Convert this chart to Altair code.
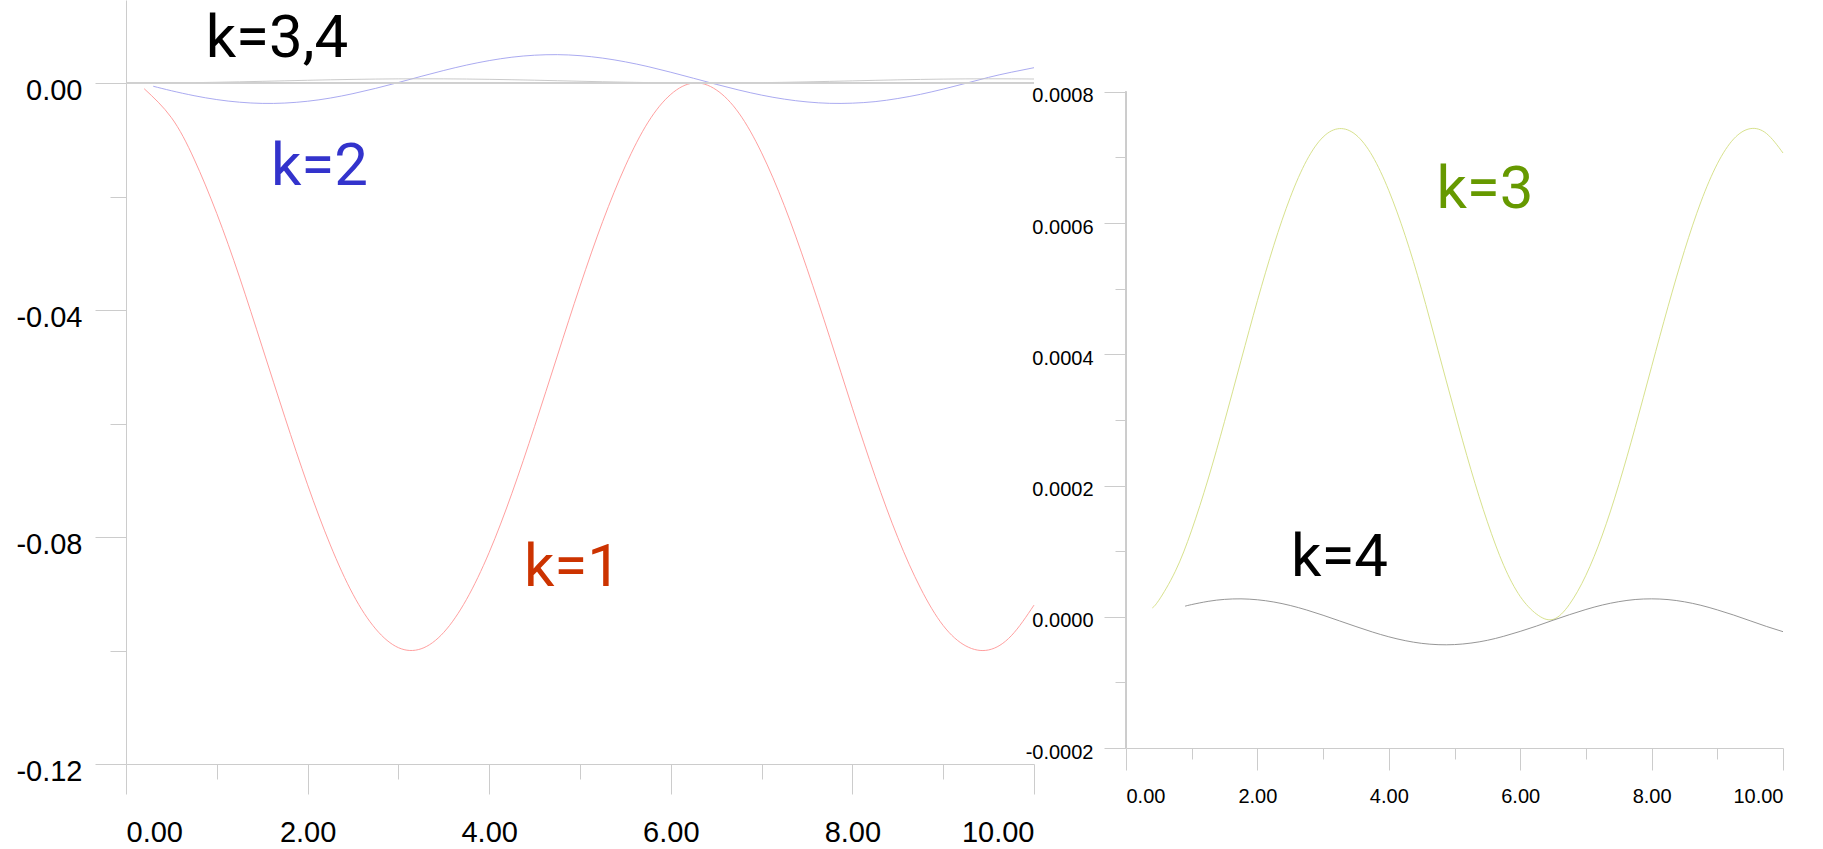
import altair as alt
import pandas as pd

# ---------------- data ----------------
X_GRID = [0.5, 0.75, 1.0, 1.25, 1.5, 1.75, 2.0, 2.25, 2.5, 2.75, 3.0,
          3.25, 3.5, 3.75, 4.0, 4.25, 4.5, 4.75, 5.0, 5.25, 5.5, 5.75, 6.0,
          6.25, 6.5, 6.75, 7.0, 7.25, 7.5, 7.75, 8.0, 8.25, 8.5, 8.75, 9.0,
          9.25, 9.5, 9.75, 10.0]

x_k1 = [0.2] + X_GRID
y_k1 = [-0.0010, -0.0061, -0.0134, -0.0230, -0.0342, -0.0465, -0.0589, -0.0708,
        -0.0814, -0.0901, -0.0962, -0.0995, -0.0997, -0.0968, -0.0910, -0.0827,
        -0.0723, -0.0605, -0.0481, -0.0358, -0.0244, -0.0146, -0.0069, -0.0020,
        -0.0000, -0.0012, -0.0053, -0.0123, -0.0216, -0.0327, -0.0448, -0.0573,
        -0.0693, -0.0801, -0.0890, -0.0956, -0.0992, -0.0999, -0.0974, -0.0920]

x_k2 = [0.3] + X_GRID
y_k2 = [-0.00057, -0.00136, -0.00223, -0.00292, -0.00338, -0.00359, -0.00353,
        -0.00321, -0.00265, -0.00187, -0.00094, 0.00009, 0.00117, 0.00221,
        0.00316, 0.00395, 0.00455, 0.00490, 0.00500, 0.00482, 0.00439, 0.00373,
        0.00289, 0.00190, 0.00084, -0.00023, -0.00124, -0.00213, -0.00284,
        -0.00333, -0.00358, -0.00355, -0.00328, -0.00273, -0.00199, -0.00107,
        -0.00005, 0.00100, 0.00190, 0.00270]

x_k3 = [0.4] + X_GRID
y_k3 = [0.0000135, 0.0000252, 0.0000692, 0.0001321, 0.0002099, 0.0002978,
        0.0003903, 0.0004817, 0.0005662, 0.0006391, 0.0006955, 0.0007312,
        0.0007440, 0.0007344, 0.0007024, 0.0006496, 0.0005808, 0.0004985,
        0.0004060, 0.0003134, 0.0002243, 0.0001448, 0.0000781, 0.0000310,
        0.0000040, -0.0000040, 0.0000190, 0.0000632, 0.0001246, 0.0002012,
        0.0002885, 0.0003811, 0.0004727, 0.0005580, 0.0006322, 0.0006903,
        0.0007283, 0.0007439, 0.0007364, 0.0007068]

x_k4 = [0.9] + X_GRID[2:]
y_k4 = [0.0000162, 0.0000186, 0.0000235, 0.0000265, 0.0000273, 0.0000259,
        0.0000225, 0.0000172, 0.0000103, 0.0000023, -0.0000063, -0.0000149,
        -0.0000232, -0.0000305, -0.0000364, -0.0000405, -0.0000425, -0.0000424,
        -0.0000401, -0.0000359, -0.0000297, -0.0000223, -0.0000141, -0.0000053,
        0.0000032, 0.0000111, 0.0000179, 0.0000230, 0.0000263, 0.0000273,
        0.0000262, 0.0000228, 0.0000175, 0.0000105, 0.0000026, -0.0000061,
        -0.0000148, -0.0000227]

x_major = [0, 2, 4, 6, 8, 10]
x_minor = [1, 3, 5, 7, 9]
left_y_major = [0.0, -0.04, -0.08, -0.12]
left_y_minor = [-0.02, -0.06, -0.10]
right_y_major = [-0.0002, 0.0, 0.0002, 0.0004, 0.0006, 0.0008]
right_y_minor = [-0.0001, 0.0001, 0.0003, 0.0005, 0.0007]

left_labels = ["k=3,4", "k=2", "k=1"]
left_label_x = [1.663, 2.131, 4.917]
left_label_y = [0.00458, -0.01797, -0.0886]
left_label_color = ["#000000", "#3333cc", "#cc3300"]

right_labels = ["k=3", "k=4"]
right_label_x = [5.464, 3.250]
right_label_y = [0.000623, 0.0000614]
right_label_color = ["#669900", "#000000"]

# ---------------- tables ----------------
def series(name, xs, ys):
    return pd.DataFrame({"x": xs, "y": ys, "series": name})

df_left = pd.concat([series("k1", x_k1, y_k1), series("k2", x_k2, y_k2),
                     series("k3", x_k3, y_k3), series("k4", x_k4, y_k4)])
df_right = pd.concat([series("k3", x_k3, y_k3), series("k4", x_k4, y_k4)])
ann_left = pd.DataFrame({"x": left_label_x, "y": left_label_y,
                         "label": left_labels, "color": left_label_color})
ann_right = pd.DataFrame({"x": right_label_x, "y": right_label_y,
                          "label": right_labels, "color": right_label_color})

AX = "#cccccc"
LABEL_FONT = "Liberation Sans"
ANN_FONT = "Roboto"
ANN_SIZE = 60
common = dict(grid=False, domainColor=AX, tickColor=AX, domainWidth=1,
              tickWidth=1, labelColor="#000000", labelFont=LABEL_FONT, title=None)

# ---------------- left panel ----------------
xs_l = alt.Scale(domain=[0, 10], nice=False, zero=False)
ys_l = alt.Scale(domain=[-0.12, 0.01463], nice=False, zero=False)

lines_l = alt.Chart(df_left).mark_line(strokeWidth=0.9, interpolate="natural").encode(
    x=alt.X("x:Q", scale=xs_l, axis=alt.Axis(values=x_major, format=".2f", orient="bottom",
            tickSize=30, labelPadding=24, labelFontSize=29, **common)),
    y=alt.Y("y:Q", scale=ys_l, axis=alt.Axis(values=left_y_major, format=".2f", orient="left",
            tickSize=31, labelPadding=13, labelOffset=7, labelFontSize=29, **common)),
    color=alt.Color("series:N", legend=None,
                    scale=alt.Scale(domain=["k1", "k2", "k3", "k4"],
                                    range=["#ff9494", "#a0a0ee", "#c4c4c4", "#d0d0d0"])),
    detail="series:N",
)
zero_l = alt.Chart(df_left).mark_rule(color="#d0d0d0", strokeWidth=1).encode(
    x=alt.X(datum=0, scale=xs_l, axis=None),
    x2=alt.X2(datum=10),
    y=alt.Y(datum=0, scale=ys_l, axis=None),
)
minor_l = alt.Chart(df_left).mark_point(opacity=0).encode(
    x=alt.X("x:Q", scale=xs_l, axis=alt.Axis(values=x_minor, orient="bottom", tickSize=15,
            labels=False, domain=False, **common)),
    y=alt.Y("y:Q", scale=ys_l, axis=alt.Axis(values=left_y_minor, orient="left", tickSize=16,
            labels=False, domain=False, **common)),
)
text_l = alt.Chart(ann_left).mark_text(align="center", baseline="alphabetic", font=ANN_FONT,
                                        fontSize=ANN_SIZE).encode(
    x=alt.X("x:Q", scale=xs_l, axis=None),
    y=alt.Y("y:Q", scale=ys_l, axis=None),
    text="label:N",
    color=alt.Color("color:N", scale=None),
)
left = alt.layer(lines_l, zero_l, minor_l, text_l).resolve_axis(
    x="independent", y="independent").resolve_scale(color="independent").properties(
    width=908, height=764)

# ---------------- right panel ----------------
xs_r = alt.Scale(domain=[0, 10], nice=False, zero=False)
ys_r = alt.Scale(domain=[-0.0002, 0.00094], nice=False, zero=False)

lines_r = alt.Chart(df_right).mark_line(strokeWidth=0.9, interpolate="natural").encode(
    x=alt.X("x:Q", scale=xs_r, axis=alt.Axis(values=x_major, format=".2f", orient="bottom",
            tickSize=22, labelPadding=16, labelFontSize=20, **common)),
    y=alt.Y("y:Q", scale=ys_r, axis=alt.Axis(values=right_y_major, format=".4f", orient="left",
            tickSize=22, labelPadding=11, labelOffset=4, labelFontSize=20, domain=False,
            **common)),
    color=alt.Color("series:N", legend=None,
                    scale=alt.Scale(domain=["k3", "k4"], range=["#d2de80", "#8a8a8a"])),
    detail="series:N",
)
yline_r = alt.Chart(df_right).mark_rule(color=AX, strokeWidth=1).encode(
    x=alt.X(datum=0, scale=xs_r, axis=None),
    y=alt.Y(datum=-0.0002, scale=ys_r, axis=None),
    y2=alt.Y2(datum=0.0008),
)
minor_r = alt.Chart(df_right).mark_point(opacity=0).encode(
    x=alt.X("x:Q", scale=xs_r, axis=alt.Axis(values=x_minor, orient="bottom", tickSize=11,
            labels=False, domain=False, **common)),
    y=alt.Y("y:Q", scale=ys_r, axis=alt.Axis(values=right_y_minor, orient="left", tickSize=11,
            labels=False, domain=False, **common)),
)
text_r = alt.Chart(ann_right).mark_text(align="center", baseline="alphabetic", font=ANN_FONT,
                                         fontSize=ANN_SIZE).encode(
    x=alt.X("x:Q", scale=xs_r, axis=None),
    y=alt.Y("y:Q", scale=ys_r, axis=None),
    text="label:N",
    color=alt.Color("color:N", scale=None),
)
right = alt.layer(lines_r, yline_r, minor_r, text_r).resolve_axis(
    x="independent", y="independent").resolve_scale(color="independent").properties(
    width=657, height=748)

chart = alt.hconcat(left, right, spacing=92, bounds="flush").properties(
    padding={"left": 15, "top": 0, "right": 0, "bottom": 0},
    background="white",
).configure(
    locale={"number": {"decimal": ".", "thousands": ",", "grouping": [3],
                       "currency": ["$", ""], "minus": "-"}},
    view=alt.ViewConfig(stroke=None),
)

chart.save("out.html", embed_options={"renderer": "svg", "actions": False})
